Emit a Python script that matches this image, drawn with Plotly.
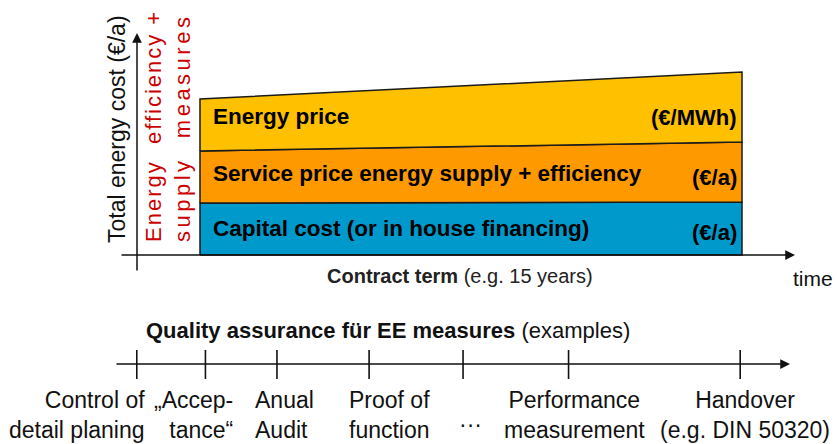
import numpy as np
import plotly.graph_objects as go

# ---------------- data ----------------
contract_years = [0, 15]
band_names = ["Capital cost (or in house financing)",
              "Service price energy supply + efficiency",
              "Energy price"]
band_units = ["(€/a)", "(€/a)", "(€/MWh)"]
capital_cost = [26, 26.5]
service_price = [26, 30]
energy_price = [26, 35]

milestone_labels = ["Control of<br>detail planing", "„Accep-<br>tance“", "Anual<br>Audit",
                    "Proof of<br>function", "···", "Performance<br>measurement",
                    "Handover<br>(e.g. DIN 50320)"]
milestone_years = [-1.75, 0.15, 2.13, 4.68, 7.28, 10.2, 14.95]

# ---------------- layout geometry / styles ----------------
W, H = 837, 444
X0_PX = 200.0
PX_PER_YEAR = 542.0 / 15
ZERO_PX = 255.0
PX_PER_UNIT = 2.0
xrange_ = [-X0_PX / PX_PER_YEAR, (W - X0_PX) / PX_PER_YEAR]
yrange_ = [-(H - ZERO_PX) / PX_PER_UNIT, ZERO_PX / PX_PER_UNIT]

def px_x(p):
    return p / W

def px_y(p):
    return 1 - p / H

def unit_at(p):
    return (ZERO_PX - p) / PX_PER_UNIT

FONT = "Liberation Sans, Arial, sans-serif"
band_colors = ["#0099CC", "#FF9900", "#FFC000"]
RED = "#CC0000"
TIMELINE_Y = 364

fig = go.Figure()

stack = np.array([capital_cost, service_price, energy_price], dtype=float)
upper = np.cumsum(stack, axis=0)
lower = upper - stack
for i in range(3):
    xs = list(contract_years) + list(contract_years[::-1]) + [contract_years[0]]
    ys = list(lower[i]) + list(upper[i][::-1]) + [lower[i][0]]
    fig.add_trace(go.Scatter(x=xs, y=ys, mode="lines", fill="toself",
                             fillcolor=band_colors[i],
                             line=dict(color="#1a1a1a", width=1.5),
                             hoverinfo="skip", showlegend=False))

# timeline ticks
tx, ty = [], []
for m in milestone_years:
    tx += [m, m, None]
    ty += [unit_at(TIMELINE_Y - 14), unit_at(TIMELINE_Y + 15), None]
fig.add_trace(go.Scatter(x=tx, y=ty, mode="lines", line=dict(color="#111", width=1.6),
                         hoverinfo="skip", showlegend=False))

ann = []

def arrow(x0, y0, x1, y1):
    ann.append(dict(xref="paper", yref="paper", x=px_x(x1), y=px_y(y1),
                    ax=x0 - x1, ay=y0 - y1, axref="pixel", ayref="pixel",
                    text="", showarrow=True, arrowhead=2, arrowsize=1.3,
                    arrowwidth=1.5, arrowcolor="#111", standoff=0))

arrow(137, 272, 137, 33)   # y axis
arrow(120, 255, 795, 255)  # x axis
arrow(115, TIMELINE_Y, 790, TIMELINE_Y)  # timeline

# band labels
left_y = [229, 173, 117]
right_y = [232, 177, 118]
for i in range(3):
    ann.append(dict(xref="x", yref="paper", x=contract_years[0], xshift=11,
                    y=px_y(left_y[i]), xanchor="left", yanchor="middle",
                    text="<b>%s</b>" % band_names[i], showarrow=False,
                    font=dict(family=FONT, size=22.5, color="#000")))
    ann.append(dict(xref="x", yref="paper", x=contract_years[-1], xshift=-3,
                    y=px_y(right_y[i]), xanchor="right", yanchor="middle",
                    text="<b>%s</b>" % band_units[i], showarrow=False,
                    font=dict(family=FONT, size=22, color="#000")))

# axis titles
ann.append(dict(xref="paper", yref="paper", x=px_x(117), y=px_y(245),
                xanchor="center", yanchor="bottom", textangle=-90,
                text="Total energy cost (€/a)", showarrow=False,
                font=dict(family=FONT, size=23, color="#111")))
ann.append(dict(xref="paper", yref="paper", x=px_x(153), y=px_y(244),
                xanchor="center", yanchor="bottom", textangle=-90,
                text='<span style="letter-spacing:2px">Energy  efficiency +</span>',
                showarrow=False, font=dict(family=FONT, size=22, color=RED)))
ann.append(dict(xref="paper", yref="paper", x=px_x(182), y=px_y(244),
                xanchor="center", yanchor="bottom", textangle=-90,
                text='<span style="letter-spacing:3.5px">supply  measures</span>',
                showarrow=False, font=dict(family=FONT, size=22, color=RED)))
ann.append(dict(xref="paper", yref="paper", x=px_x(460), y=px_y(276),
                xanchor="center", yanchor="middle",
                text="<b>Contract term</b> (e.g. 15 years)", showarrow=False,
                font=dict(family=FONT, size=20, color="#222")))
ann.append(dict(xref="paper", yref="paper", x=px_x(813), y=px_y(278),
                xanchor="center", yanchor="middle", text="time", showarrow=False,
                font=dict(family=FONT, size=21, color="#111")))
ann.append(dict(xref="paper", yref="paper", x=px_x(388), y=px_y(330),
                xanchor="center", yanchor="middle",
                text="<b>Quality assurance für EE measures</b> (examples)",
                showarrow=False, font=dict(family=FONT, size=22, color="#111")))

# milestone labels (anchor, pixel shift from tick)
label_style = [("right", 10), ("right", 30), ("left", -24), ("left", -22),
               ("center", 7), ("center", 6), ("center", 5)]
for i, lab in enumerate(milestone_labels):
    anchor, shift = label_style[i]
    single = "<br>" not in lab
    ann.append(dict(xref="x", yref="paper", x=milestone_years[i], xshift=shift,
                    y=px_y(424 if single else 415), xanchor=anchor, yanchor="middle",
                    align=anchor,
                    text=lab, showarrow=False,
                    font=dict(family=FONT, size=23, color="#111")))

fig.update_layout(
    width=W, height=H, margin=dict(l=0, r=0, t=0, b=0),
    paper_bgcolor="white", plot_bgcolor="white", showlegend=False,
    xaxis=dict(range=xrange_, visible=False, fixedrange=True),
    yaxis=dict(range=yrange_, visible=False, fixedrange=True),
    annotations=ann,
)

fig.write_html("out.html",
               config={"displayModeBar": False},
               post_script="document.body.style.margin='0';document.body.style.overflow='hidden';")
